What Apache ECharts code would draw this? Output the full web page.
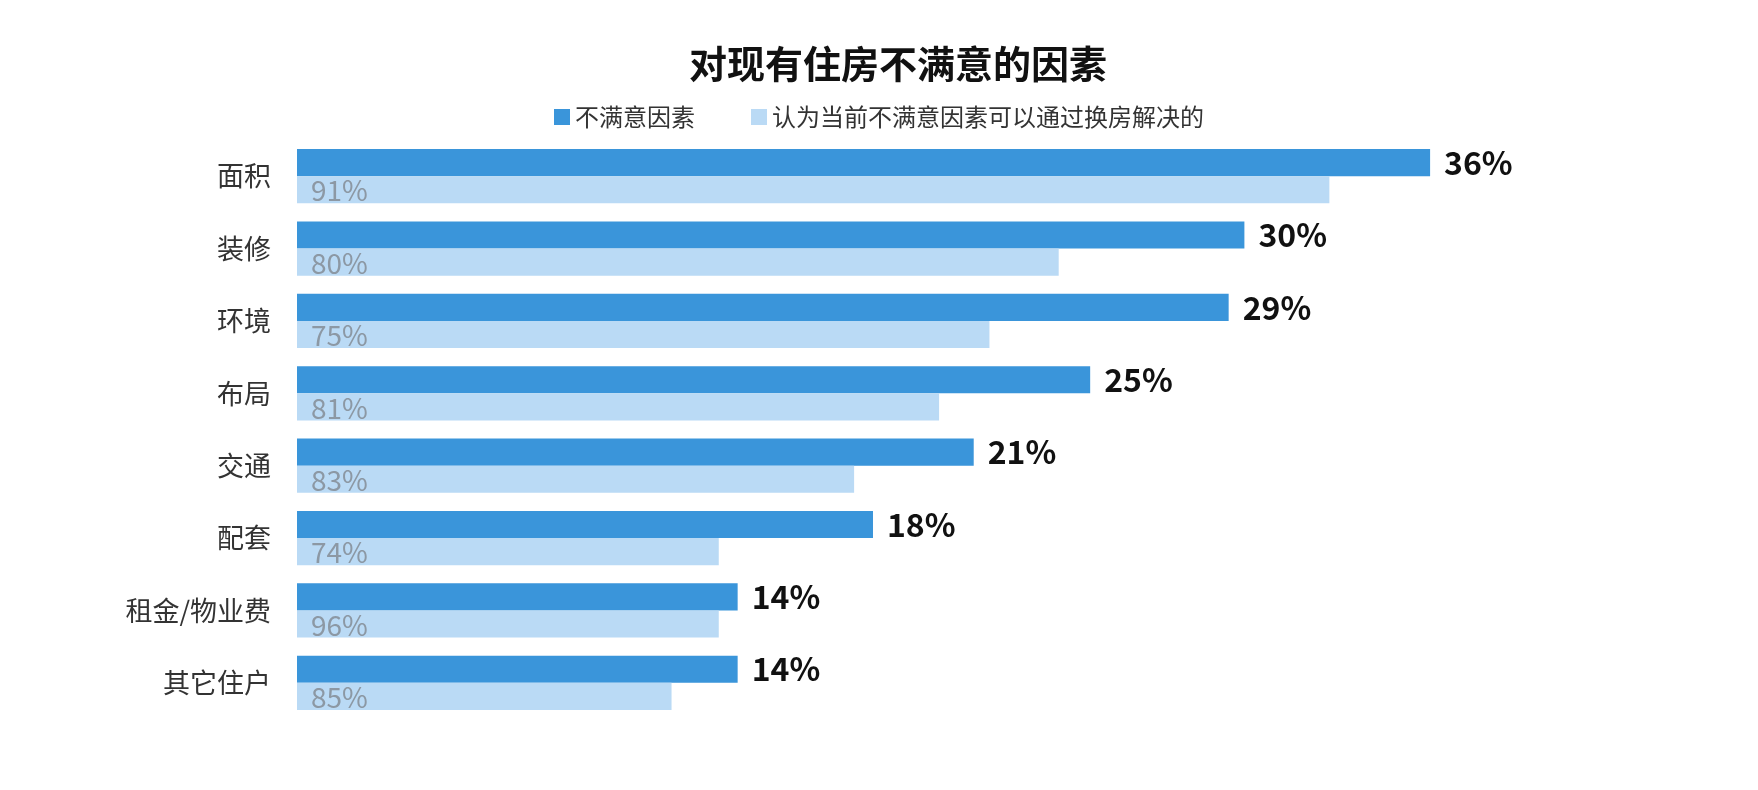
<!DOCTYPE html>
<html>
<head>
<meta charset="utf-8">
<title>对现有住房不满意的因素</title>
<script src="https://cdn.jsdelivr.net/npm/echarts@6/dist/echarts.min.js"></script>
<style>html,body{margin:0;background:#fff}</style>
</head>
<body>
<div id="main" style="width:1758px;height:790px;"></div>
<script>
// 类别（从上到下）
var categories = ['面积', '装修', '环境', '布局', '交通', '配套', '租金/物业费', '其它住户'];
// 不满意因素 (%) 标注，以及图中深色条的长度
var dissatisfied = [36, 30, 29, 25, 21, 18, 14, 14];
var dissatisfiedBar = [36, 30.1, 29.6, 25.2, 21.5, 18.3, 14, 14];
// 浅色条的长度（按图中比例读出）和标注文字
var solvableBar = [32.8, 24.2, 22.0, 20.4, 17.7, 13.4, 13.4, 11.9];
var solvableLabels = ['91%', '80%', '75%', '81%', '83%', '74%', '96%', '85%'];

var chart = echarts.init(document.getElementById('main'));
var font = '"Noto Sans CJK SC", "Noto Sans", sans-serif';

chart.setOption({
    textStyle: { fontFamily: font },
    title: {
        text: '对现有住房不满意的因素',
        left: 893, top: 40, textAlign: 'center',
        textStyle: { fontSize: 38, fontWeight: 'bold', color: '#111', fontFamily: font }
    },
    legend: {
        top: 100, left: 'center',
        itemWidth: 16, itemHeight: 16, itemGap: 56,
        icon: 'rect',
        textStyle: { fontSize: 24, color: '#333' },
        data: ['不满意因素', '认为当前不满意因素可以通过换房解决的']
    },
    grid: { left: 297, right: 202, top: 140, bottom: 71 },
    xAxis: {
        type: 'value', min: 0, max: 40,
        show: false
    },
    yAxis: {
        type: 'category', inverse: true,
        data: categories,
        axisLine: { show: false }, axisTick: { show: false },
        axisLabel: { fontSize: 27, color: '#333', margin: 26 }
    },
    series: [{
        name: '不满意因素',
        type: 'bar',
        data: dissatisfiedBar,
        barGap: '0%',
        barCategoryGap: '25%',
        itemStyle: { color: '#3a95da' },
        label: {
            show: true, position: 'right', distance: 14,
            formatter: function (p) { return dissatisfied[p.dataIndex] + '%'; },
            fontSize: 32, fontWeight: 'bold', color: '#111'
        }
    }, {
        name: '认为当前不满意因素可以通过换房解决的',
        type: 'bar',
        data: solvableBar,
        itemStyle: { color: '#badaf5' },
        label: {
            show: true, position: 'insideLeft', distance: 14,
            formatter: function (p) { return solvableLabels[p.dataIndex]; },
            fontSize: 28, color: '#8c98a4', offset: [0, 1]
        }
    }]
});
</script>
</body>
</html>
